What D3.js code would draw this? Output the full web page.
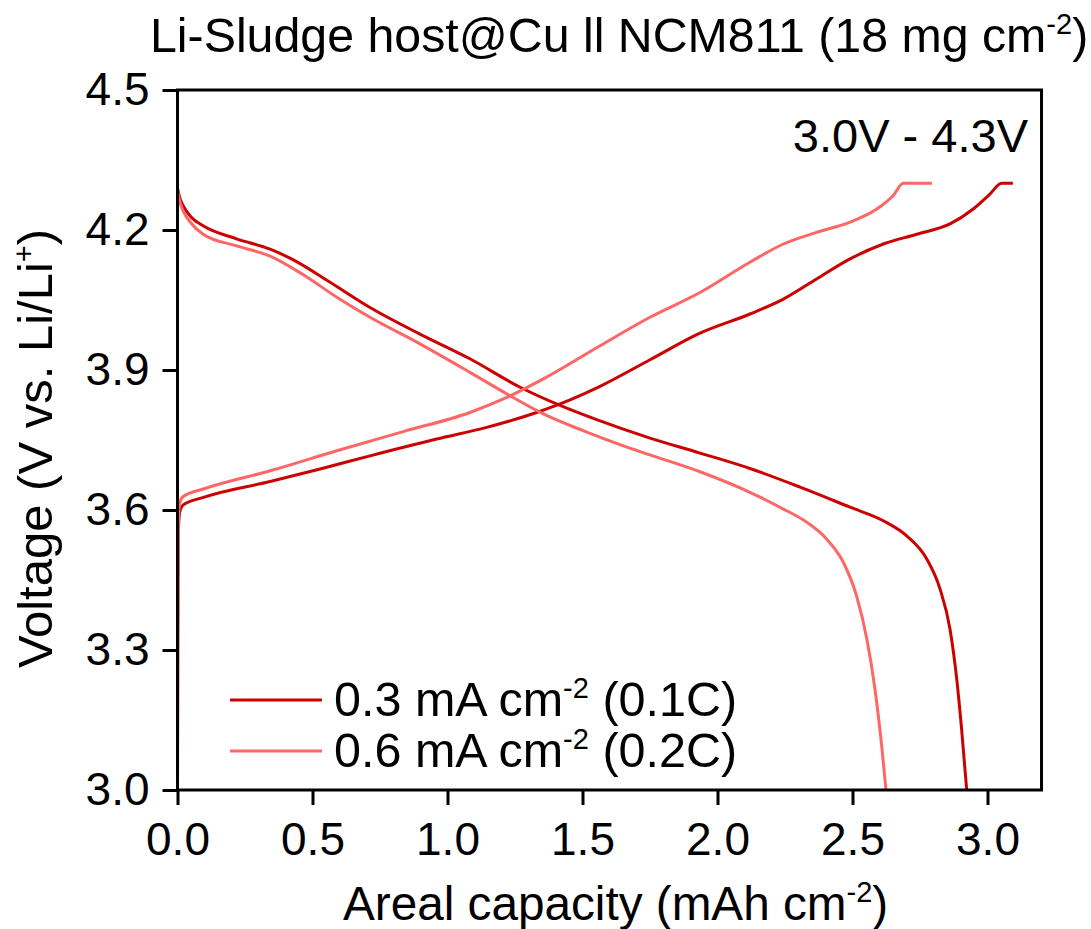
<!DOCTYPE html>
<html>
<head>
<meta charset="utf-8">
<script src="https://cdn.jsdelivr.net/npm/d3@7"></script>
<style>
  html, body { margin: 0; padding: 0; background: #fff; }
  text { font-family: "Liberation Sans", Arial, sans-serif; fill: #000; }
</style>
</head>
<body>
<svg id="chart" width="1091" height="929"></svg>
<script>
// ---------- data (capacity in mAh cm-2, voltage in V) ----------
const xTicks = [0.0, 0.5, 1.0, 1.5, 2.0, 2.5, 3.0];
const yTicks = [3.0, 3.3, 3.6, 3.9, 4.2, 4.5];

const seriesNames = ["0.3 mA cm", "0.6 mA cm"];
const seriesRates = ["(0.1C)", "(0.2C)"];
const seriesColors = ["#CC0000", "#FF6666"];

// 0.1C charge
const charge01 = [
  [0, 3.02], [0.001, 3.30], [0.003, 3.55], [0.008, 3.595], [0.021, 3.611],
  [0.096, 3.627], [0.343, 3.661], [0.528, 3.688], [0.713, 3.716], [0.96, 3.752],
  [1.145, 3.777], [1.33, 3.809], [1.454, 3.836], [1.565, 3.865], [1.75, 3.922],
  [1.935, 3.979], [2.12, 4.02], [2.244, 4.052], [2.367, 4.095], [2.491, 4.138],
  [2.614, 4.17], [2.738, 4.191], [2.861, 4.213], [2.947, 4.245], [3.009, 4.277],
  [3.052, 4.30], [3.094, 4.30]
];
// 0.1C discharge
const discharge01 = [
  [0, 4.29], [0.008, 4.27], [0.021, 4.252], [0.05, 4.228], [0.095, 4.209],
  [0.219, 4.181], [0.343, 4.159], [0.429, 4.136], [0.565, 4.088], [0.713, 4.034],
  [0.898, 3.977], [1.083, 3.924], [1.269, 3.863], [1.417, 3.824], [1.55, 3.794],
  [1.75, 3.754], [1.935, 3.722], [2.12, 3.689], [2.306, 3.649], [2.491, 3.606],
  [2.614, 3.577], [2.70, 3.545], [2.775, 3.495], [2.824, 3.431], [2.861, 3.345],
  [2.886, 3.238], [2.904, 3.131], [2.923, 3.0]
];
// 0.2C charge
const charge02 = [
  [0, 3.0], [0.001, 3.30], [0.003, 3.57], [0.008, 3.615], [0.021, 3.629],
  [0.096, 3.645], [0.343, 3.684], [0.59, 3.727], [0.836, 3.768], [1.083, 3.809],
  [1.207, 3.838], [1.355, 3.881], [1.565, 3.952], [1.75, 4.013], [1.935, 4.066],
  [2.12, 4.131], [2.244, 4.17], [2.367, 4.195], [2.491, 4.217], [2.59, 4.245],
  [2.651, 4.274], [2.688, 4.30], [2.794, 4.30]
];
// 0.2C discharge
const discharge02 = [
  [0, 4.285], [0.008, 4.262], [0.021, 4.241], [0.05, 4.215], [0.095, 4.191],
  [0.219, 4.166], [0.343, 4.144], [0.466, 4.104], [0.59, 4.056], [0.713, 4.013],
  [0.898, 3.956], [1.083, 3.895], [1.231, 3.845], [1.355, 3.806], [1.516, 3.767],
  [1.639, 3.740], [1.75, 3.718], [1.935, 3.682], [2.12, 3.638], [2.244, 3.602],
  [2.33, 3.574], [2.404, 3.538], [2.466, 3.488], [2.515, 3.416], [2.553, 3.324],
  [2.583, 3.217], [2.608, 3.095], [2.624, 3.0]
];

const curves = [
  { data: charge01, color: seriesColors[0] },
  { data: discharge01, color: seriesColors[0] },
  { data: charge02, color: seriesColors[1] },
  { data: discharge02, color: seriesColors[1] }
];

// ---------- layout ----------
const svg = d3.select("#chart");
const pLeft = 177.5, pRight = 1041.5, pTop = 90, pBottom = 790;

const x = d3.scaleLinear().domain([0, 3.2]).range([pLeft, pRight]);
const y = d3.scaleLinear().domain([3.0, 4.5]).range([pBottom, pTop]);

const FS = 46;

// curves
const line = d3.line().x(d => x(d[0])).y(d => y(d[1])).curve(d3.curveMonotoneX);
svg.append("g").selectAll("path").data(curves).join("path")
  .attr("d", d => line(d.data))
  .attr("fill", "none")
  .attr("stroke", d => d.color)
  .attr("stroke-width", 3)
  .attr("stroke-linejoin", "round");

// axes
const xAxis = d3.axisBottom(x).tickValues(xTicks).tickFormat(d3.format(".1f"))
  .tickSize(15).tickPadding(17);
const gx = svg.append("g").attr("transform", `translate(0,${pBottom})`).call(xAxis);
gx.select(".domain").remove();
gx.selectAll(".tick line").attr("stroke", "#000").attr("stroke-width", 3);
gx.selectAll(".tick text").attr("font-size", FS).attr("font-family", "Liberation Sans, Arial, sans-serif").attr("fill", "#000");

const yAxis = d3.axisLeft(y).tickValues(yTicks).tickFormat(d3.format(".1f"))
  .tickSize(15).tickPadding(13);
const gy = svg.append("g").attr("transform", `translate(${pLeft},0)`).call(yAxis);
gy.select(".domain").remove();
gy.selectAll(".tick line").attr("stroke", "#000").attr("stroke-width", 3);
gy.selectAll(".tick text").attr("font-size", FS).attr("font-family", "Liberation Sans, Arial, sans-serif").attr("fill", "#000");

// frame
svg.append("rect")
  .attr("x", pLeft).attr("y", pTop)
  .attr("width", pRight - pLeft).attr("height", pBottom - pTop)
  .attr("fill", "none").attr("stroke", "#000").attr("stroke-width", 3);

// title
const title = svg.append("text").attr("x", 150).attr("y", 52).attr("font-size", 48.3);
title.append("tspan").text("Li-Sludge host@Cu ll NCM811 (18 mg cm");
title.append("tspan").attr("font-size", 29).attr("dy", -18).text("-2");
title.append("tspan").attr("dy", 18).text(")");

// voltage window
svg.append("text").attr("x", 1028).attr("y", 152).attr("font-size", 47)
  .attr("text-anchor", "end").text("3.0V - 4.3V");

// x label
const xl = svg.append("text").attr("x", 343).attr("y", 920).attr("font-size", 47.7);
xl.append("tspan").text("Areal capacity (mAh cm");
xl.append("tspan").attr("font-size", 29).attr("dy", -18).text("-2");
xl.append("tspan").attr("dy", 18).text(")");

// y label
const yl = svg.append("text")
  .attr("transform", "translate(52,668) rotate(-90)")
  .attr("font-size", 49);
yl.append("tspan").text("Voltage (V vs. Li/Li");
yl.append("tspan").attr("font-size", 29).attr("dy", -18).text("+");
yl.append("tspan").attr("dy", 18).text(")");

// legend
const legY = [700, 751];
const leg = svg.append("g").selectAll("g").data(seriesNames).join("g");
leg.append("line")
  .attr("x1", 230).attr("x2", 322)
  .attr("y1", (d, i) => legY[i]).attr("y2", (d, i) => legY[i])
  .attr("stroke", (d, i) => seriesColors[i]).attr("stroke-width", 3);
const lt = leg.append("text").attr("x", 334).attr("y", (d, i) => legY[i] + 16).attr("font-size", 48.5);
lt.append("tspan").text(d => d);
lt.append("tspan").attr("font-size", 29).attr("dy", -18).text("-2");
lt.append("tspan").attr("dy", 18).text((d, i) => " " + seriesRates[i]);
</script>
</body>
</html>
